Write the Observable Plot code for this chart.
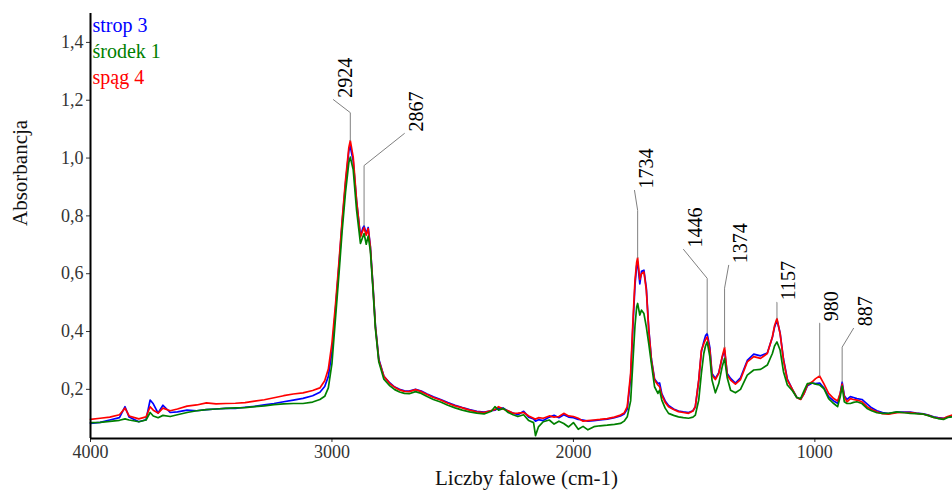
<!DOCTYPE html>
<html>
<head>
<meta charset="utf-8">
<script src="https://cdn.jsdelivr.net/npm/d3@7"></script>
<script src="https://cdn.jsdelivr.net/npm/@observablehq/plot@0.6"></script>
<style>
  html, body { margin: 0; padding: 0; background: #fff; }
  #chart svg { display: block; }
  #chart svg, #chart svg text { font-family: "Liberation Serif", "Times New Roman", Times, serif !important; }
</style>
</head>
<body>
<div id="chart"></div>
<script>
// ---- data ----
const wavenumbers = [
  4000, 3960, 3920, 3880, 3857, 3840, 3800, 3770, 3753, 3740, 3720, 3700, 3670, 3640, 3600,
  3560, 3520, 3480, 3440, 3400, 3360, 3320, 3280, 3240, 3200, 3160, 3120, 3080, 3050,
  3030, 3015, 3000, 2985, 2970, 2958, 2944, 2930, 2924, 2912, 2898, 2882, 2872, 2867, 2858, 2850, 2841, 2830, 2820, 2806,
  2785, 2760, 2740, 2720, 2700, 2680, 2654, 2630, 2606, 2580, 2550, 2520, 2490, 2460, 2430,
  2400, 2370, 2340, 2325, 2310, 2290, 2270, 2250, 2230, 2206, 2185, 2165, 2157, 2145, 2125, 2100, 2080, 2060, 2040, 2020, 2000,
  1980, 1960, 1940, 1915, 1890, 1860, 1830, 1805, 1790,
  1777, 1763, 1754, 1745, 1738, 1734, 1725, 1718, 1708, 1698, 1688, 1677, 1664, 1650, 1643, 1634, 1620, 1606,
  1585, 1565, 1545, 1523, 1505, 1495, 1481, 1470, 1460, 1453, 1446, 1435, 1426, 1412,
  1398, 1384, 1374, 1363, 1349, 1329, 1308, 1280, 1253, 1225, 1197, 1176, 1167, 1157, 1144, 1130, 1114, 1093, 1075, 1059,
  1045, 1031, 1011, 997, 980, 963, 943, 922, 906, 895, 887, 878, 867,
  853, 840, 826, 805, 784, 765, 743, 720, 695, 660, 630, 605, 580, 550, 530, 508, 490, 467, 450, 430
];
// strop 3 (blue)
const strop3 = [
  .082,.086,.094,.102,.140,.104,.088,.095,.163,.150,.118,.145,.120,.122,.128,
  .126,.130,.132,.134,.134,.138,.141,.146,.151,.157,.163,.169,.178,.190,
  .210,.245,.330,.480,.640,.775,.910,1.025,1.040,.990,.850,.730,.758,.765,.738,.760,.695,.556,.420,.305,
  .245,.222,.208,.200,.195,.194,.200,.194,.184,.174,.165,.154,.145,.137,.130,
  .124,.121,.126,.128,.136,.135,.124,.118,.112,.124,.104,.098,.090,.095,.092,.104,.110,.102,.112,.104,.102,
  .096,.094,.090,.092,.094,.097,.102,.108,.115,
  .132,.240,.410,.560,.628,.640,.565,.608,.612,.550,.410,.305,.236,.220,.222,.185,.160,.144,
  .132,.125,.122,.120,.126,.140,.230,.330,.365,.385,.393,.345,.255,.238,
  .258,.310,.335,.255,.238,.222,.240,.300,.322,.316,.326,.380,.415,.440,.395,.305,.235,.200,.172,.166,
  .185,.212,.222,.220,.222,.205,.175,.160,.152,.185,.225,.178,.165,
  .175,.172,.168,.165,.150,.136,.126,.120,.116,.121,.121,.121,.118,.115,.111,.105,.102,.100,.104,.108
];
// środek 1 (green)
const srodek1 = [
  .085,.086,.089,.093,.098,.094,.088,.094,.120,.108,.102,.110,.106,.112,.120,
  .126,.130,.132,.134,.136,.137,.140,.143,.147,.150,.151,.151,.156,.165,
  .176,.205,.290,.450,.610,.745,.880,.985,1.003,.960,.820,.705,.728,.739,.702,.730,.680,.545,.410,.295,
  .235,.212,.199,.191,.186,.185,.192,.186,.175,.165,.156,.145,.136,.128,.122,
  .118,.115,.124,.140,.128,.134,.120,.112,.106,.112,.092,.085,.040,.070,.088,.094,.080,.090,.082,.070,.085,
  .062,.072,.060,.071,.074,.076,.079,.082,.090,
  .105,.160,.290,.420,.485,.497,.457,.474,.462,.416,.358,.289,.209,.186,.197,.163,.135,.117,
  .110,.105,.102,.100,.104,.111,.163,.255,.324,.350,.364,.313,.232,.188,
  .220,.278,.307,.240,.197,.188,.200,.249,.267,.269,.284,.324,.350,.364,.336,.261,.215,.195,.172,.168,
  .195,.220,.222,.218,.215,.203,.168,.151,.140,.174,.211,.157,.151,
  .151,.155,.157,.151,.134,.126,.119,.117,.117,.122,.119,.117,.116,.114,.109,.103,.099,.096,.103,.105
];
// spąg 4 (red)
const spag4 = [
  .096,.100,.104,.112,.135,.108,.098,.105,.140,.128,.118,.135,.126,.132,.142,
  .146,.153,.150,.151,.152,.154,.159,.164,.171,.178,.184,.188,.196,.205,
  .230,.270,.360,.497,.650,.784,.922,1.037,1.060,1.003,.853,.727,.750,.759,.733,.756,.692,.554,.416,.301,
  .245,.220,.207,.198,.193,.192,.199,.192,.182,.172,.163,.152,.143,.136,.128,
  .122,.120,.127,.130,.140,.131,.126,.117,.118,.120,.108,.100,.097,.102,.100,.108,.104,.106,.117,.108,.106,
  .100,.090,.092,.094,.096,.099,.104,.111,.118,
  .140,.255,.428,.577,.640,.655,.580,.600,.606,.543,.405,.301,.232,.215,.209,.180,.155,.140,
  .130,.123,.120,.117,.125,.140,.232,.335,.358,.372,.381,.336,.249,.234,
  .255,.313,.345,.249,.232,.218,.234,.295,.313,.307,.324,.381,.420,.445,.393,.301,.232,.200,.172,.165,
  .185,.215,.226,.237,.246,.220,.186,.168,.160,.186,.218,.174,.157,
  .168,.165,.163,.157,.140,.130,.122,.116,.114,.119,.120,.120,.117,.114,.110,.103,.101,.099,.106,.111
];
const seriesNames = ["strop 3", "środek 1", "spąg 4"];
const peakLabels = [2924, 2867, 1734, 1446, 1374, 1157, 980, 887];
const xTicks = [4000, 3000, 2000, 1000];
const yTicks = [0.2, 0.4, 0.6, 0.8, 1.0, 1.2, 1.4];

// ---- layout / style ----
const seriesColors = ["#0000ff", "#008000", "#ff0000"];
const drawOrder = ["strop 3", "spąg 4", "środek 1"];
// leader geometry for peak labels (elbow absorbance, end wavenumber, end absorbance)
const leaderElbow = [1.157, 0.974, 0.819, 0.584, 0.550, 0.501, 0.429, 0.346];
const leaderEndX  = [2994, 2700, 1747, 1544, 1357, 1157, 980, 840];
const leaderEndY  = [1.202, 1.085, 0.888, 0.684, 0.629, 0.501, 0.429, 0.411];
const FONT = "Liberation Serif, Times New Roman, Times, serif";

const valuesByName = {"strop 3": strop3, "środek 1": srodek1, "spąg 4": spag4};
const rows = drawOrder.flatMap(name =>
  wavenumbers.map((w, i) => ({series: name, w, v: valuesByName[name][i]}))
);

const leaders = peakLabels.flatMap((p, k) => {
  const i = wavenumbers.indexOf(p);
  const top = Math.max(strop3[i], srodek1[i], spag4[i]);
  return [
    {label: p, x: p, y: top},
    {label: p, x: p, y: leaderElbow[k]},
    {label: p, x: leaderEndX[k], y: leaderEndY[k]}
  ];
});
const labelPos = peakLabels.map((p, k) => ({label: String(p), x: leaderEndX[k], y: leaderEndY[k]}));

const chart = Plot.plot({
  width: 952,
  height: 491,
  marginLeft: 90,
  marginRight: 0,
  marginTop: 13,
  marginBottom: 53,
  style: {fontFamily: FONT, fontSize: "18px", color: "#333", background: "#fff"},
  x: {domain: [4000, 430], ticks: xTicks, tickFormat: d => String(d), tickSize: 4, tickPadding: 3, label: null},
  y: {domain: [0.03, 1.5], ticks: yTicks, tickFormat: d => d.toFixed(1).replace(".", ","), tickSize: 4, tickPadding: 3, label: null},
  color: {domain: seriesNames, range: seriesColors},
  marks: [
    Plot.line(rows, {x: "w", y: "v", z: "series", stroke: "series", strokeWidth: 1.7}),
    Plot.line(leaders, {x: "x", y: "y", z: "label", stroke: "#808080", strokeWidth: 1}),
    Plot.text(labelPos, {x: "x", y: "y", text: "label", rotate: -90, textAnchor: "start", lineAnchor: "middle",
      dx: 12, dy: -2, fontSize: 20, fill: "#000"}),
    Plot.ruleX([4000], {stroke: "#000", strokeWidth: 2}),
    Plot.ruleY([0.03], {stroke: "#000", strokeWidth: 2}),
    ...seriesNames.map((name, i) => Plot.text([name], {
      frameAnchor: "top-left", text: d => d, dx: 2, dy: 12 + 26 * i,
      textAnchor: "start", lineAnchor: "middle", fontSize: 20, fill: seriesColors[i]
    })),
    Plot.text(["Liczby falowe (cm-1)"], {frameAnchor: "bottom", text: d => d, dx: 5, dy: 40,
      lineAnchor: "middle", fontSize: 21, fill: "#111"}),
    Plot.text(["Absorbancja"], {frameAnchor: "left", text: d => d, dx: -70, rotate: -90,
      lineAnchor: "middle", fontSize: 21, fill: "#111"})
  ]
});
document.getElementById("chart").appendChild(chart);
</script>
</body>
</html>
